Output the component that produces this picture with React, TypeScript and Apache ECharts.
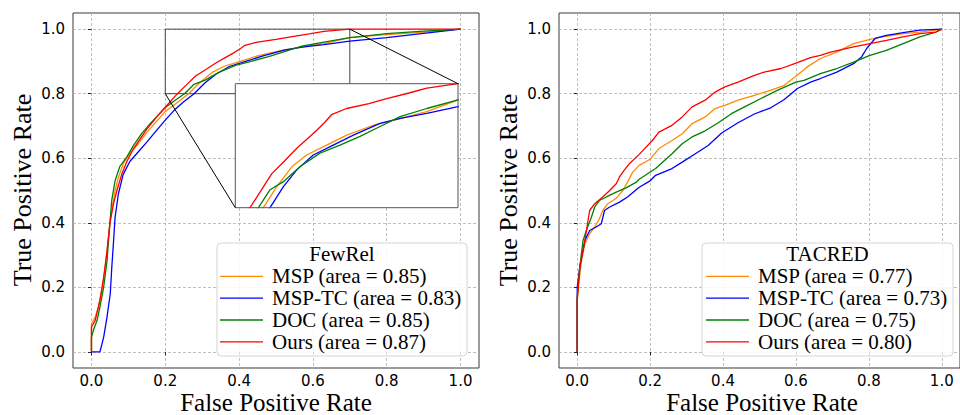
import React, { useEffect, useRef } from "react";
import * as echarts from "echarts";

// ---------- data ----------
const tickValues = [0, 0.2, 0.4, 0.6, 0.8, 1.0];
const methods = ["MSP", "MSP-TC", "DOC", "Ours"];
const fewrelAuc = [0.85, 0.83, 0.85, 0.87];
const tacredAuc = [0.77, 0.73, 0.75, 0.8];
const datasetTitles = ["FewRel", "TACRED"];

// FewRel ROC points [FPR, TPR]
const fewrelMsp = [
  [0, 0], [0, 0.087], [0.01, 0.107], [0.019, 0.14], [0.028, 0.19], [0.037, 0.26], [0.046, 0.355],
  [0.055, 0.44], [0.064, 0.5], [0.073, 0.54], [0.086, 0.583], [0.104, 0.614], [0.127, 0.645],
  [0.15, 0.68], [0.177, 0.715], [0.2, 0.745], [0.232, 0.772], [0.263, 0.8], [0.293, 0.834],
  [0.327, 0.866], [0.36, 0.885], [0.405, 0.901], [0.45, 0.917], [0.51, 0.933], [0.555, 0.941],
  [0.63, 0.955], [0.7, 0.974], [0.8, 0.983], [0.9, 0.991], [1.0, 1.0],
];
const fewrelMspTc = [
  [0, 0], [0.023, 0.0], [0.033, 0.045], [0.042, 0.107], [0.051, 0.18], [0.055, 0.26], [0.06, 0.345],
  [0.064, 0.417], [0.073, 0.49], [0.086, 0.55], [0.104, 0.59], [0.127, 0.62], [0.15, 0.65],
  [0.177, 0.687], [0.2, 0.718], [0.227, 0.752], [0.25, 0.775], [0.278, 0.8], [0.308, 0.834],
  [0.338, 0.861], [0.375, 0.885], [0.42, 0.901], [0.465, 0.917], [0.525, 0.936], [0.57, 0.944],
  [0.63, 0.952], [0.7, 0.963], [0.8, 0.974], [0.9, 0.987], [1.0, 1.0],
];
const fewrelDoc = [
  [0, 0], [0, 0.045], [0.005, 0.066], [0.015, 0.097], [0.023, 0.139], [0.033, 0.2], [0.042, 0.28],
  [0.049, 0.387], [0.055, 0.47], [0.064, 0.53], [0.077, 0.575], [0.096, 0.604], [0.114, 0.64],
  [0.136, 0.676], [0.159, 0.707], [0.182, 0.735], [0.2, 0.757], [0.225, 0.778], [0.252, 0.8],
  [0.278, 0.829], [0.308, 0.842], [0.345, 0.866], [0.39, 0.888], [0.435, 0.901], [0.48, 0.915],
  [0.525, 0.931], [0.57, 0.947], [0.63, 0.96], [0.7, 0.974], [0.8, 0.986], [0.9, 0.994], [1.0, 1.0],
];
const fewrelOurs = [
  [0, 0], [0, 0.077], [0.01, 0.097], [0.023, 0.16], [0.033, 0.23], [0.042, 0.31], [0.05, 0.4],
  [0.06, 0.46], [0.069, 0.5], [0.082, 0.55], [0.096, 0.59], [0.114, 0.63], [0.132, 0.66],
  [0.15, 0.69], [0.177, 0.728], [0.2, 0.758], [0.233, 0.8], [0.258, 0.828], [0.282, 0.855],
  [0.31, 0.875], [0.338, 0.896], [0.36, 0.91], [0.383, 0.925], [0.4, 0.937], [0.416, 0.95],
  [0.45, 0.96], [0.5, 0.968], [0.54, 0.976], [0.59, 0.985], [0.63, 0.993], [0.7, 1.0], [1.0, 1.0],
];

// TACRED ROC points [FPR, TPR]
const tacredMsp = [
  [0, 0], [0, 0.16], [0.005, 0.22], [0.012, 0.283], [0.021, 0.335], [0.034, 0.366], [0.048, 0.387],
  [0.061, 0.413], [0.07, 0.438], [0.084, 0.459], [0.106, 0.475], [0.125, 0.5], [0.138, 0.526],
  [0.152, 0.557], [0.17, 0.578], [0.2, 0.597], [0.224, 0.63], [0.26, 0.655], [0.288, 0.676],
  [0.315, 0.707], [0.351, 0.728], [0.378, 0.754], [0.405, 0.764], [0.441, 0.78], [0.486, 0.795],
  [0.532, 0.811], [0.568, 0.826], [0.604, 0.858], [0.631, 0.883], [0.667, 0.909], [0.712, 0.929],
  [0.758, 0.955], [0.803, 0.968], [0.848, 0.978], [0.894, 0.986], [0.94, 0.991], [0.984, 0.997], [1, 1],
];
const tacredMspTc = [
  [0, 0], [0, 0.2], [0.007, 0.263], [0.021, 0.345], [0.034, 0.376], [0.052, 0.387], [0.066, 0.397],
  [0.075, 0.438], [0.088, 0.448], [0.116, 0.464], [0.138, 0.48], [0.17, 0.51], [0.2, 0.53],
  [0.215, 0.547], [0.26, 0.568], [0.288, 0.588], [0.324, 0.614], [0.36, 0.64], [0.396, 0.678],
  [0.441, 0.71], [0.486, 0.737], [0.532, 0.757], [0.568, 0.782], [0.604, 0.816], [0.64, 0.836],
  [0.667, 0.847], [0.712, 0.867], [0.758, 0.893], [0.78, 0.914], [0.794, 0.94], [0.817, 0.971],
  [0.848, 0.981], [0.894, 0.989], [0.94, 0.997], [1, 1],
];
const tacredDoc = [
  [0, 0], [0, 0.17], [0.007, 0.263], [0.016, 0.345], [0.025, 0.376], [0.039, 0.418], [0.048, 0.449],
  [0.061, 0.469], [0.08, 0.48], [0.107, 0.495], [0.134, 0.508], [0.161, 0.525], [0.17, 0.535],
  [0.215, 0.568], [0.26, 0.614], [0.288, 0.645], [0.315, 0.666], [0.351, 0.685], [0.387, 0.71],
  [0.423, 0.738], [0.459, 0.759], [0.504, 0.785], [0.55, 0.811], [0.6, 0.836], [0.622, 0.841],
  [0.667, 0.862], [0.712, 0.878], [0.758, 0.898], [0.803, 0.919], [0.848, 0.934], [0.894, 0.955],
  [0.94, 0.976], [0.984, 0.991], [1, 1],
];
const tacredOurs = [
  [0, 0], [0, 0.16], [0.007, 0.263], [0.021, 0.345], [0.034, 0.438], [0.048, 0.459], [0.07, 0.48],
  [0.089, 0.5], [0.107, 0.521], [0.116, 0.542], [0.129, 0.563], [0.143, 0.583], [0.17, 0.612],
  [0.206, 0.655], [0.224, 0.681], [0.26, 0.702], [0.288, 0.728], [0.315, 0.759], [0.351, 0.78],
  [0.378, 0.805], [0.405, 0.821], [0.441, 0.836], [0.486, 0.857], [0.513, 0.867], [0.559, 0.878],
  [0.6, 0.895], [0.64, 0.912], [0.667, 0.919], [0.695, 0.929], [0.758, 0.945], [0.803, 0.955],
  [0.848, 0.965], [0.894, 0.976], [0.94, 0.986], [0.984, 0.991], [1, 1],
];

const fewrelCurves = [fewrelMsp, fewrelMspTc, fewrelDoc, fewrelOurs];
const tacredCurves = [tacredMsp, tacredMspTc, tacredDoc, tacredOurs];
const insetRange = { x: [0.2, 0.7], y: [0.8, 1.0] };

// ---------- styles ----------
const COLORS = ["#ff8c00", "#0000ff", "#008000", "#ff0000"];
const SERIF = "'Liberation Serif', 'Times New Roman', serif";
const SANS = "'DejaVu Sans', sans-serif";
const FRAME = "#3a3a3a";

const MAIN = [
  { left: 73, top: 13, width: 406, height: 355 },
  { left: 559, top: 13, width: 406, height: 355 },
];
const INSET = { left: 235.3, top: 83.7, width: 222.7, height: 124 };
const LEGEND_BOX = [
  { x: 217, y: 243, w: 250, h: 113, lineX: 220 },
  { x: 702, y: 243, w: 251, h: 113, lineX: 706 },
];

function tickLabel(margin: number) {
  return {
    customValues: tickValues,
    formatter: (v: number) => v.toFixed(1),
    fontFamily: SANS,
    fontSize: 15,
    color: "#000",
    margin,
  };
}

function mainAxis(gridIndex: number, margin: number) {
  return {
    type: "value",
    gridIndex,
    min: -0.05,
    max: 1.05,
    axisLine: { show: false },
    axisTick: { show: true, customValues: tickValues, length: 3.5, lineStyle: { color: "#000", width: 0.8 } },
    axisLabel: tickLabel(margin),
    splitLine: { show: true, lineStyle: { color: "#b0b0b0", type: [3, 2], width: 0.8 } },
  };
}

function buildOption() {
  const series: any[] = [];
  const names = [
    methods.map((m, i) => `${m} (area = ${fewrelAuc[i].toFixed(2)})`),
    methods.map((m, i) => `${m} (area = ${tacredAuc[i].toFixed(2)})`),
  ];
  [fewrelCurves, tacredCurves].forEach((curves, p) => {
    curves.forEach((data, i) => {
      const s: any = {
        type: "line",
        name: names[p][i],
        xAxisIndex: p,
        yAxisIndex: p,
        data,
        symbol: "none",
        showSymbol: false,
        lineStyle: { color: COLORS[i], width: 1.3 },
        itemStyle: { color: COLORS[i] },
        z: 2,
        silent: true,
      };
      if (p === 0 && i === 0) {
        s.markArea = {
          silent: true,
          itemStyle: { color: "rgba(0,0,0,0)", borderColor: "#444", borderWidth: 1 },
          data: [[{ coord: [insetRange.x[0], insetRange.y[0]] }, { coord: [insetRange.x[1], insetRange.y[1]] }]],
        };
        s.markLine = {
          silent: true,
          symbol: ["none", "none"],
          label: { show: false },
          lineStyle: { color: "#000", width: 1, type: "solid" },
          data: [
            [{ coord: [insetRange.x[0], insetRange.y[0]] }, { x: INSET.left, y: INSET.top + INSET.height }],
            [{ coord: [insetRange.x[1], insetRange.y[1]] }, { x: INSET.left + INSET.width, y: INSET.top }],
          ],
        };
      }
      series.push(s);
    });
  });
  // inset series (zoomed view of FewRel)
  fewrelCurves.forEach((data, i) => {
    series.push({
      type: "line",
      name: names[0][i],
      xAxisIndex: 2,
      yAxisIndex: 2,
      data,
      symbol: "none",
      showSymbol: false,
      clip: true,
      lineStyle: { color: COLORS[i], width: 1.3 },
      itemStyle: { color: COLORS[i] },
      z: 4,
      silent: true,
    });
  });

  const graphics: any[] = [];
  graphics.push({
    type: "rect",
    shape: { x: INSET.left, y: INSET.top, width: INSET.width, height: INSET.height },
    style: { fill: "#fff", stroke: "none" },
    z: 3,
    silent: true,
  });
  graphics.push({
    type: "rect",
    shape: { x: INSET.left, y: INSET.top, width: INSET.width, height: INSET.height },
    style: { fill: "none", stroke: "#555", lineWidth: 1 },
    z: 5,
    silent: true,
  });
  LEGEND_BOX.forEach((b, p) => {
    graphics.push({
      type: "rect",
      shape: { x: b.x, y: b.y, width: b.w, height: b.h, r: 4 },
      style: { fill: "rgba(255,255,255,0.85)", stroke: "#d5d5d5", lineWidth: 1 },
      z: 3,
      silent: true,
    });
    graphics.push({
      type: "text",
      x: b.x + b.w / 2,
      y: 254,
      style: {
        text: datasetTitles[p],
        font: `21px ${SERIF}`,
        fill: "#000",
        textAlign: "center",
        textVerticalAlign: "middle",
      },
      z: 6,
      silent: true,
    });
  });
  MAIN.forEach((g) => {
    graphics.push({
      type: "text",
      x: g.left + 203,
      y: 402.5,
      style: {
        text: "False Positive Rate",
        font: `25px ${SERIF}`,
        fill: "#000",
        textAlign: "center",
        textVerticalAlign: "middle",
      },
      z: 6,
      silent: true,
    });
    graphics.push({
      type: "text",
      x: g.left - 51,
      y: 190,
      rotation: Math.PI / 2,
      style: {
        text: "True Positive Rate",
        font: `26px ${SERIF}`,
        fill: "#000",
        textAlign: "center",
        textVerticalAlign: "middle",
      },
      z: 6,
      silent: true,
    });
  });

  const legends = LEGEND_BOX.map((b, p) => ({
    show: true,
    data: names[p],
    orient: "vertical",
    left: b.lineX,
    top: 265.5,
    icon: "rect",
    itemWidth: 43,
    itemHeight: 1.3,
    itemGap: 0,
    padding: 0,
    selectedMode: false,
    z: 5,
    textStyle: {
      fontFamily: SERIF,
      fontSize: 21,
      color: "#000",
      lineHeight: 21.8,
      padding: [0, 0, 0, 4],
    },
  }));

  return {
    animation: false,
    backgroundColor: "#fff",
    grid: [
      { ...MAIN[0], show: true, borderColor: FRAME, borderWidth: 1, backgroundColor: "transparent" },
      { ...MAIN[1], show: true, borderColor: FRAME, borderWidth: 1, backgroundColor: "transparent" },
      { ...INSET, show: false },
    ],
    xAxis: [
      mainAxis(0, 5),
      mainAxis(1, 5),
      { type: "value", gridIndex: 2, min: insetRange.x[0], max: insetRange.x[1], show: false },
    ],
    yAxis: [
      mainAxis(0, 8),
      mainAxis(1, 8),
      { type: "value", gridIndex: 2, min: insetRange.y[0], max: insetRange.y[1], show: false },
    ],
    legend: legends,
    series,
    graphic: graphics,
  };
}

export default function App() {
  const ref = useRef<HTMLDivElement>(null);
  useEffect(() => {
    if (!ref.current) return;
    const chart = echarts.init(ref.current, null, { renderer: "svg" });
    chart.setOption(buildOption() as any);
    return () => chart.dispose();
  }, []);
  return (
    <div
      ref={ref}
      style={{ position: "fixed", left: 0, top: 0, width: 960, height: 415, background: "#fff" }}
    />
  );
}
